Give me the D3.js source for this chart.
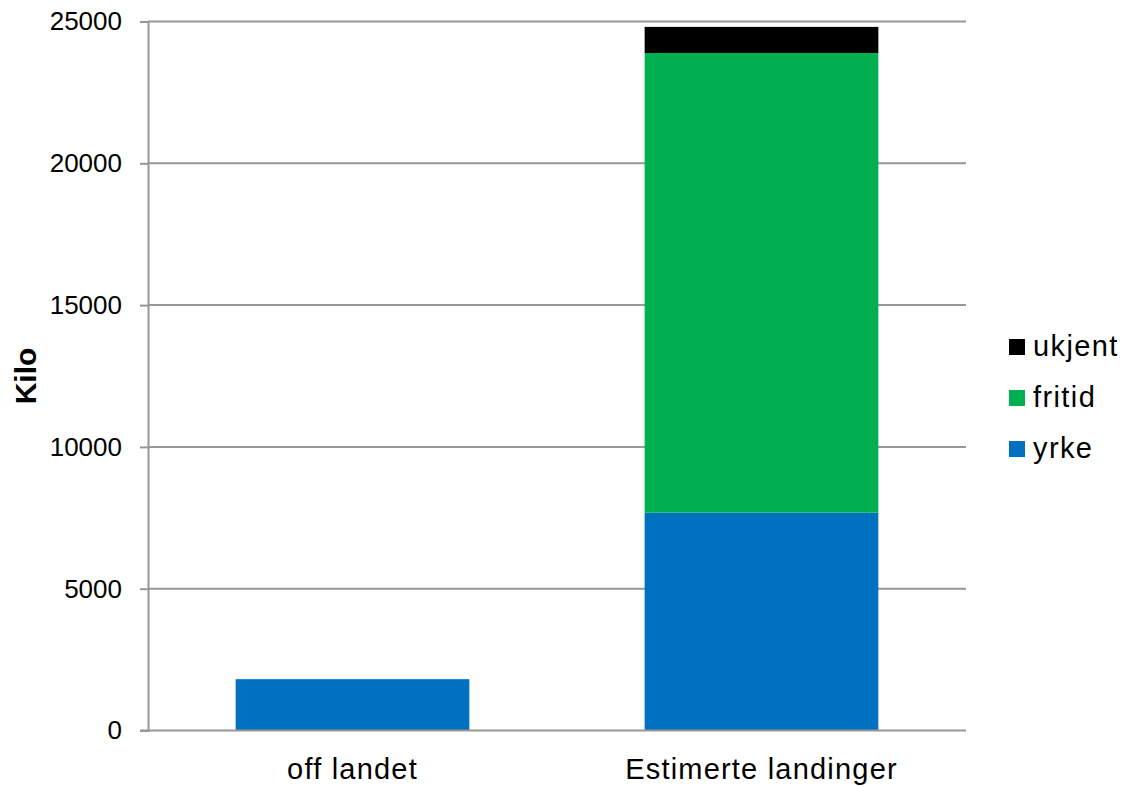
<!DOCTYPE html>
<html>
<head>
<meta charset="utf-8">
<script src="https://cdn.jsdelivr.net/npm/d3@7"></script>
<style>
    body { margin: 0; background: #fff; }
    text { font-family: "Liberation Sans", Arial, sans-serif; fill: #000; }
</style>
</head>
<body>
<div id="chart"></div>
<script>
// categories and series (kilo)
const categories = ["off landet", "Estimerte landinger"];
const seriesNames = ["yrke", "fritid", "ukjent"];
const yrke = [1810, 7680];
const fritid = [0, 16210];
const ukjent = [0, 920];
const yTicks = [0, 5000, 10000, 15000, 20000, 25000];
const colors = { yrke: "#0070C0", fritid: "#00B050", ukjent: "#000000" };

const totalWidth = 1126;
const totalHeight = 787;
const margin = { top: 21.5, right: 160, bottom: 56.5, left: 148 };

const svg = d3.select("#chart")
    .append("svg")
    .attr("width", totalWidth)
    .attr("height", totalHeight);

const x = d3.scaleBand()
    .domain(categories)
    .range([margin.left, totalWidth - margin.right])
    .paddingInner(0.4286)
    .paddingOuter(0.2143);

const y = d3.scaleLinear()
    .domain([0, 25000])
    .range([totalHeight - margin.bottom, margin.top]);

// gridlines
svg.append("g")
    .selectAll("line")
    .data(yTicks.filter(d => d > 0))
    .join("line")
    .attr("x1", margin.left)
    .attr("x2", totalWidth - margin.right)
    .attr("y1", d => y(d))
    .attr("y2", d => y(d))
    .attr("stroke", "#979797")
    .attr("stroke-width", 2);

// stacked bars
const rows = categories.map((c, i) => ({ category: c, yrke: yrke[i], fritid: fritid[i], ukjent: ukjent[i] }));
const stacked = d3.stack().keys(seriesNames)(rows);

svg.append("g")
    .selectAll("g")
    .data(stacked)
    .join("g")
    .attr("fill", d => colors[d.key])
    .selectAll("rect")
    .data(d => d.filter(p => p[1] - p[0] > 0))
    .join("rect")
    .attr("x", d => x(d.data.category))
    .attr("width", x.bandwidth())
    .attr("y", d => y(d[1]))
    .attr("height", d => y(d[0]) - y(d[1]));

// y axis
const yAxis = svg.append("g")
    .attr("transform", `translate(${margin.left},0)`)
    .call(d3.axisLeft(y).tickValues(yTicks).tickFormat(d3.format("d")).tickSize(8).tickPadding(18));
yAxis.select(".domain").attr("stroke", "#979797").attr("stroke-width", 2);
yAxis.selectAll(".tick line").attr("stroke", "#979797").attr("stroke-width", 2);
yAxis.selectAll(".tick text")
    .attr("font-size", "26px")
    .attr("font-family", "Liberation Sans, Arial, sans-serif")
    .attr("fill", "#000");

// x axis
const xAxis = svg.append("g")
    .attr("transform", `translate(0,${y(0)})`)
    .call(d3.axisBottom(x).tickSize(0).tickPadding(28));
xAxis.select(".domain")
    .attr("d", `M${margin.left - 8},0H${totalWidth - margin.right}`)
    .attr("stroke", "#979797")
    .attr("stroke-width", 2);
xAxis.selectAll(".tick text")
    .attr("font-size", "29px")
    .attr("letter-spacing", "1.2px")
    .attr("font-family", "Liberation Sans, Arial, sans-serif")
    .attr("fill", "#000");

// axis title
svg.append("text")
    .attr("transform", `translate(36,${(y(0) + y(25000)) / 2}) rotate(-90)`)
    .attr("text-anchor", "middle")
    .attr("font-size", "30px")
    .attr("font-weight", "bold")
    .text("Kilo");

// legend (reverse order, like the stack)
const legend = svg.append("g")
    .attr("transform", "translate(1009,339)");

const legendItems = legend.selectAll("g")
    .data(seriesNames.slice().reverse())
    .join("g")
    .attr("transform", (d, i) => `translate(0,${i * 51})`);

legendItems.append("rect")
    .attr("width", 16)
    .attr("height", 16)
    .attr("fill", d => colors[d]);

legendItems.append("text")
    .attr("x", 24)
    .attr("y", 8)
    .attr("dy", "0.3em")
    .attr("font-size", "29px")
    .attr("letter-spacing", "1.4px")
    .text(d => d);
</script>
</body>
</html>
